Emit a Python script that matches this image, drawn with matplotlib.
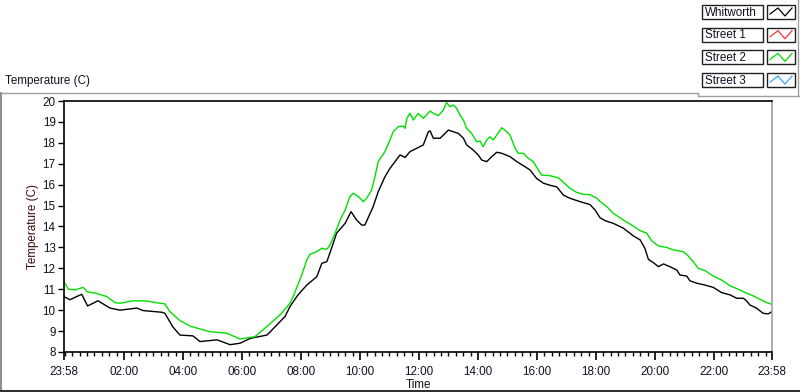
import matplotlib
matplotlib.use("Agg")
import matplotlib.pyplot as plt
from matplotlib.lines import Line2D
from matplotlib.patches import Rectangle
import numpy as np

# ---- data (hours since 23:58) ----
whit_t = [0, 0.2, 0.6, 0.8, 1.15, 1.56, 1.9, 2.47, 2.68, 3.32, 3.42, 3.69, 3.93, 4.37, 4.61,
          5.19, 5.63, 5.97, 6.31, 6.88, 6.98, 7.32, 7.49, 7.66, 7.89, 8.0, 8.23, 8.57, 8.74,
          8.91, 9.07, 9.24, 9.53, 9.73, 9.92, 10.09, 10.2, 10.48, 10.65, 10.88, 11.05, 11.22,
          11.39, 11.56, 11.73, 12.07, 12.18, 12.35, 12.41, 12.52, 12.75, 12.86, 13.03, 13.2,
          13.37, 13.54, 13.65, 13.87, 14.04, 14.16, 14.33, 14.5, 14.67, 14.84, 15.12, 15.35,
          15.57, 15.8, 16.02, 16.25, 16.53, 16.7, 16.93, 17.15, 17.49, 17.83, 18.0, 18.17,
          18.34, 18.62, 18.96, 19.3, 19.53, 19.69, 19.81, 19.98, 20.15, 20.32, 20.54, 20.77,
          20.88, 21.11, 21.22, 21.45, 21.73, 22.01, 22.29, 22.58, 22.8, 23.03, 23.14, 23.25,
          23.48, 23.7, 23.87, 24.0]
whit_T = [10.65, 10.5, 10.76, 10.2, 10.45, 10.1, 10.0, 10.1, 9.98, 9.9, 9.85, 9.2, 8.81, 8.77,
          8.5, 8.58, 8.35, 8.42, 8.65, 8.81, 8.95, 9.45, 9.69, 10.17, 10.65, 10.84, 11.2, 11.6,
          12.24, 12.32, 12.96, 13.68, 14.15, 14.71, 14.31, 14.07, 14.07, 14.95, 15.66, 16.38,
          16.78, 17.1, 17.42, 17.3, 17.58, 17.82, 17.9, 18.53, 18.57, 18.22, 18.22, 18.37,
          18.61, 18.53, 18.45, 18.22, 17.9, 17.66, 17.42, 17.18, 17.1, 17.34, 17.55, 17.5,
          17.34, 17.1, 16.91, 16.7, 16.3, 16.07, 15.95, 15.9, 15.5, 15.35, 15.19, 15.05, 14.79,
          14.42, 14.28, 14.15, 13.92, 13.55, 13.36, 12.96, 12.43, 12.27, 12.08, 12.21, 12.08,
          11.92, 11.68, 11.63, 11.4, 11.29, 11.2, 11.09, 10.84, 10.73, 10.57, 10.57, 10.44,
          10.25, 10.09, 9.85, 9.82, 9.93]

st2_t = [0, 0.15, 0.37, 0.65, 0.79, 1.11, 1.45, 1.73, 1.9, 2.35, 2.8, 3.25, 3.42, 3.59, 3.93,
         4.27, 4.61, 4.95, 5.52, 5.97, 6.31, 6.47, 6.87, 7.32, 7.66, 7.77, 8.06, 8.23, 8.34,
         8.57, 8.74, 8.91, 9.02, 9.19, 9.36, 9.53, 9.69, 9.81, 9.98, 10.15, 10.26, 10.43,
         10.54, 10.65, 10.88, 11.05, 11.16, 11.33, 11.5, 11.56, 11.62, 11.73, 11.84, 12.01,
         12.18, 12.41, 12.52, 12.69, 12.86, 12.97, 13.08, 13.2, 13.31, 13.42, 13.54, 13.65,
         13.82, 13.99, 14.1, 14.21, 14.33, 14.44, 14.55, 14.67, 14.84, 15.01, 15.12, 15.29,
         15.4, 15.57, 15.74, 15.91, 16.08, 16.19, 16.47, 16.76, 16.93, 17.15, 17.38, 17.6,
         17.83, 18.06, 18.17, 18.4, 18.62, 18.96, 19.3, 19.53, 19.75, 19.92, 20.15, 20.43,
         20.65, 20.99, 21.16, 21.33, 21.5, 21.73, 22.01, 22.29, 22.58, 22.86, 23.14, 23.37,
         23.59, 23.82, 24.0]
st2_T = [11.36, 11.0, 10.97, 11.09, 10.88, 10.8, 10.65, 10.36, 10.33, 10.45, 10.44, 10.33,
         10.3, 9.93, 9.5, 9.24, 9.1, 8.97, 8.9, 8.62, 8.7, 8.73, 9.21, 9.77, 10.33, 10.65,
         11.68, 12.4, 12.67, 12.8, 12.96, 12.91, 13.12, 13.68, 14.31, 14.79, 15.43, 15.59,
         15.43, 15.19, 15.35, 15.75, 16.38, 17.1, 17.58, 18.14, 18.53, 18.77, 18.8, 18.69,
         19.17, 19.41, 19.09, 19.41, 19.17, 19.52, 19.41, 19.3, 19.57, 19.93, 19.73, 19.81,
         19.65, 19.33, 19.09, 18.69, 18.45, 18.05, 18.09, 17.82, 18.14, 18.29, 18.14, 18.37,
         18.72, 18.53, 18.37, 17.74, 17.5, 17.5, 17.26, 17.1, 16.7, 16.46, 16.43, 16.33,
         16.11, 15.83, 15.63, 15.54, 15.52, 15.35, 15.2, 14.95, 14.63, 14.31, 14.02, 13.8,
         13.68, 13.32, 13.07, 13.0, 12.88, 12.8, 12.59, 12.32, 12.0, 11.89, 11.63, 11.44,
         11.16, 11.0, 10.81, 10.68, 10.52, 10.36, 10.28]

x_major = [0, 2 + 2/60, 4 + 2/60, 6 + 2/60, 8 + 2/60, 10 + 2/60, 12 + 2/60, 14 + 2/60,
           16 + 2/60, 18 + 2/60, 20 + 2/60, 22 + 2/60, 24]
x_labels = ["23:58", "02:00", "04:00", "06:00", "08:00", "10:00", "12:00", "14:00",
            "16:00", "18:00", "20:00", "22:00", "23:58"]
y_ticks = list(range(8, 21))

legend_names = ["Whitworth", "Street 1", "Street 2", "Street 3"]
legend_colors = ["#000000", "#ff3030", "#00e000", "#30a8ff"]

# ---- figure ----
W, H = 800, 392
fig = plt.figure(figsize=(8, 3.92), dpi=100)
fig.patch.set_facecolor("white")
plt.rcParams['font.family'] = ['Liberation Sans', 'DejaVu Sans']
FS = 8.4
txtcol = "#111122"

def fx(x):
    return x / W

def fy(y):
    return 1 - y / H

L, R, T, B = 64, 772, 101, 352
ax = fig.add_axes([fx(L), fy(B), fx(R) - fx(L), fy(T) - fy(B)])
ax.plot(whit_t, whit_T, color="#000000", lw=1.0)
ax.plot(st2_t, st2_T, color="#00e000", lw=1.0)
ax.set_xlim(0, 24)
ax.set_ylim(8, 20)
ax.set_yticks(y_ticks)
ax.set_yticklabels([str(v) for v in y_ticks], fontsize=FS, color=txtcol)
ax.set_xticks(x_major)
ax.set_xticklabels(x_labels, fontsize=FS, color=txtcol)
minor = [2/60 + k * 0.25 for k in range(96) if 2/60 + k * 0.25 < 24]
ax.set_xticks(minor, minor=True)
ax.tick_params(axis="x", which="major", direction="out", length=6, width=1.2, pad=4, color="black")
ax.tick_params(axis="x", which="minor", direction="out", length=3, width=1.0, color="black")
ax.tick_params(axis="y", which="major", direction="out", length=4, width=1, pad=2, color="black")
for s in ["left", "bottom", "top"]:
    ax.spines[s].set_color("black")
    ax.spines[s].set_linewidth(1.2)
ax.spines["right"].set_color("#a0a0a0")
ax.spines["right"].set_linewidth(1.2)
ax.set_xlabel("Time", fontsize=FS, color=txtcol, labelpad=0.5)
ax.set_ylabel("Temperature (C)", fontsize=FS, color="#3a0a0a", labelpad=3)

# top-left caption
fig.text(fx(5), fy(81), "Temperature (C)", fontsize=FS, color=txtcol, ha="left", va="center")

# frame lines
def hline(y, x0, x1, c, lw=1.0):
    fig.add_artist(Line2D([fx(x0), fx(x1)], [fy(y), fy(y)], color=c, lw=lw))

def vline(x, y0, y1, c, lw=1.0):
    fig.add_artist(Line2D([fx(x), fx(x)], [fy(y0), fy(y1)], color=c, lw=lw))

hline(92.5, 0, 698, "#a0a0a0")
vline(698, 92.5, 95.5, "#a0a0a0")
hline(95.5, 698, 800, "#a0a0a0")
vline(798, 0, 95.5, "#a0a0a0")
vline(1, 92.5, 392, "#909090", lw=1.5)
hline(390.5, 0, 800, "#303030", lw=1.5)

# legend
row_top = [5, 27.7, 50.4, 73.1]
for name, col, top in zip(legend_names, legend_colors, row_top):
    h = 14
    fig.add_artist(Rectangle((fx(702), fy(top + h)), fx(763) - fx(702), h / H,
                             facecolor="white", edgecolor="#202020", lw=1.0,
                             transform=fig.transFigure))
    fig.text(fx(705), fy(top + h / 2 + 0.5), name, fontsize=FS, color=txtcol,
             ha="left", va="center")
    fig.add_artist(Rectangle((fx(767), fy(top + h)), fx(795) - fx(767), h / H,
                             facecolor="white", edgecolor="#202020", lw=1.0,
                             transform=fig.transFigure))
    zx = [770, 778, 785, 792]
    zy = [top + 9, top + 3, top + 11, top + 3]
    fig.add_artist(Line2D([fx(v) for v in zx], [fy(v) for v in zy], color=col, lw=0.9))

fig.savefig("out.png", dpi=100, facecolor="white")
